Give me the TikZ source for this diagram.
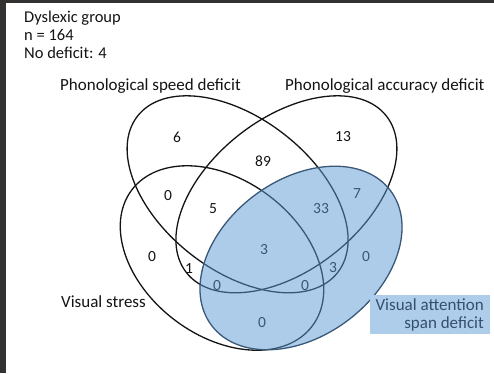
\documentclass[tikz,border=0pt]{standalone}
\usepackage{fontspec}
\setmainfont{Carlito}
\usepackage{tikz}
\usetikzlibrary{positioning}
\definecolor{VAFill}{RGB}{91,155,213}
\definecolor{VALine}{RGB}{58,88,120}
\definecolor{VAText}{RGB}{52,80,110}
\definecolor{FrameGrey}{RGB}{52,50,48}
\definecolor{InkBlack}{RGB}{20,20,20}

\begin{document}
\begin{tikzpicture}[x=1pt, y=1pt,
    set/.style={draw=InkBlack, line width=1.3pt},
    vas/.style={fill=VAFill, fill opacity=0.5, draw=VALine, draw opacity=1,
                line width=1.3pt},
    count/.style={font=\fontsize{15.5}{15.5}\selectfont, text=InkBlack, inner sep=0pt},
    setname/.style={font=\fontsize{17}{18}\selectfont, text=InkBlack, inner sep=0pt},
    info/.style={font=\fontsize{16.5}{18}\selectfont, text=InkBlack, inner sep=0pt,
                 anchor=base west}
  ]
  % frame
  \fill[FrameGrey] (0,0) rectangle (494,373);
  \fill[white] (6,0) rectangle (494,370);
  \useasboundingbox (0,0) rectangle (494,373);

  % header
  \node[info] (grp)  at (24,350) {Dyslexic group};
  \node[info] (size) at (24,332) {n = 164};
  \node[info] (none) at (24,314) {No deficit: 4};

  % sets
  \draw[set, shift={(237.6,178.7)}, rotate=-38] (0,0) ellipse (127pt and 76pt);
  \draw[set, shift={(286.4,178.7)}, rotate=38]  (0,0) ellipse (127pt and 76pt);
  \draw[set, shift={(222,115)}, rotate=-37]     (0,0) ellipse (113pt and 78pt);

  \node[setname, anchor=base west] (speed) at (60,283)  {Phonological speed deficit};
  \node[setname, anchor=base west] (accur) at (285,283) {Phonological accuracy deficit};
  \node[setname, anchor=base east] (stress) at (146,66) {Visual stress};

  % region counts
  \node[count] (nS)    at (177,236) {6};
  \node[count] (nA)    at (343,236) {13};
  \node[count] (nSA)   at (263,212) {89};
  \node[count] (nSV)   at (168,177) {0};
  \node[count] (nSAV)  at (213,164) {5};
  \node[count] (nSAD)  at (321,164) {33};
  \node[count] (nAD)   at (357,179) {7};
  \node[count] (nAll)  at (264,123) {3};
  \node[count] (nV)    at (152,116) {0};
  \node[count] (nAV)   at (189,104) {1};
  \node[count] (nSD)   at (333,105) {3};
  \node[count] (nD)    at (366,116) {0};
  \node[count] (nSVD)  at (217,87)  {0};
  \node[count] (nAVD)  at (305,87)  {0};
  \node[count] (nVD)   at (262,50)  {0};

  % visual attention span set on top
  \draw[vas, shift={(301,115)}, rotate=37] (0,0) ellipse (112pt and 78pt);
  \node[setname, anchor=north east, align=right, fill=VAFill!50!white,
        text=VAText, inner xsep=6pt, inner ysep=3pt] (span) at (490,78)
        {Visual attention\\span deficit};
\end{tikzpicture}
\end{document}
